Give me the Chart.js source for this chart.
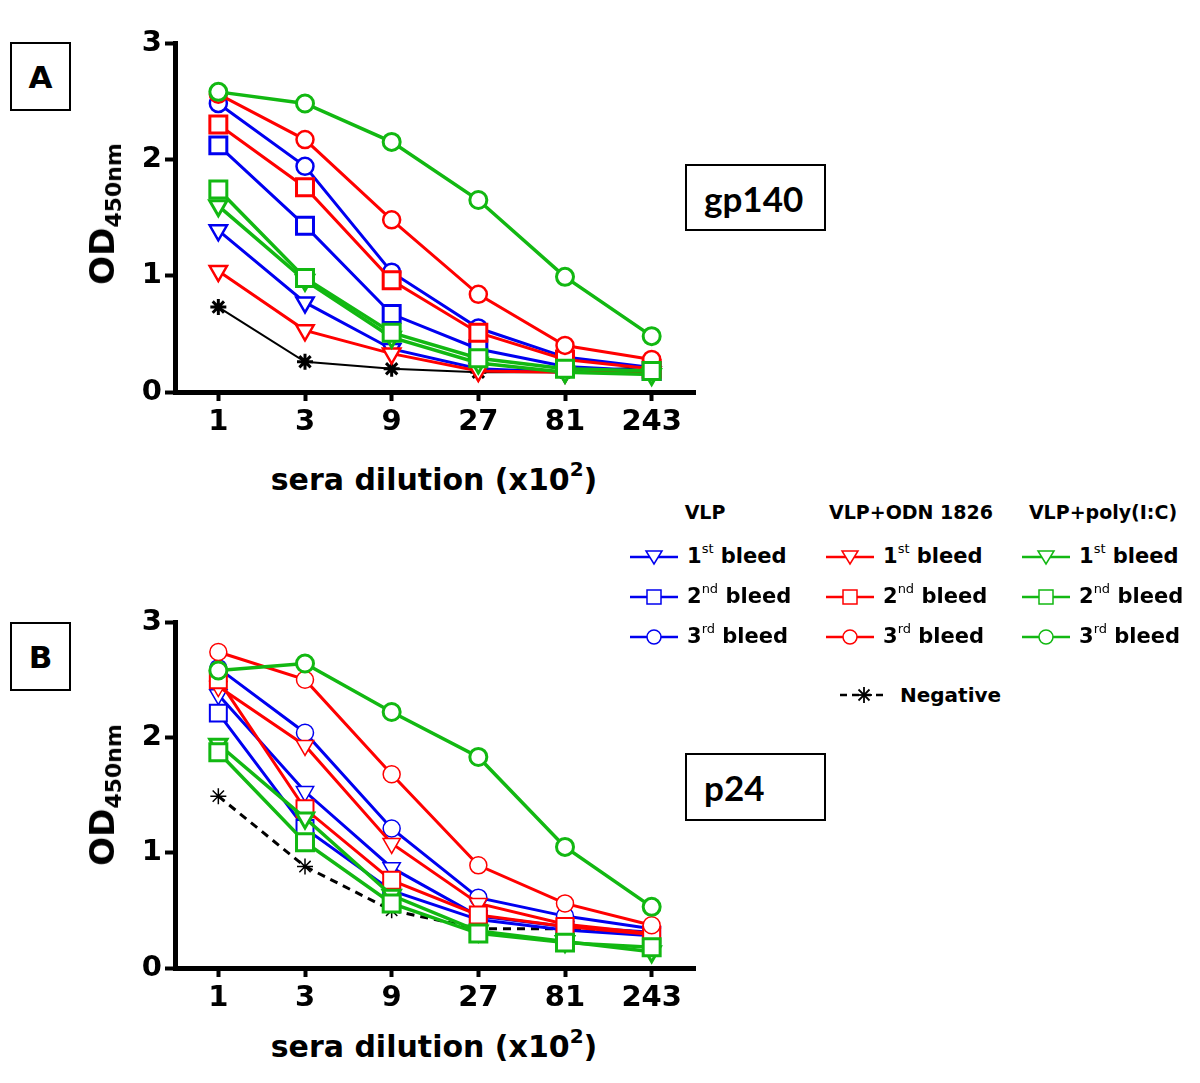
<!DOCTYPE html>
<html>
<head>
<meta charset="utf-8">
<script src="https://cdn.jsdelivr.net/npm/chart.js@4.4.1/dist/chart.umd.min.js"></script>
<style>
html, body { margin: 0; padding: 0; background: #fff; }
#page { position: relative; width: 1200px; height: 1083px; overflow: hidden; font-family: 'DejaVu Sans', sans-serif; font-weight: bold; color: #000; }
canvas.plot { position: absolute; left: 0; }
.box { position: absolute; border: 2px solid #000; box-sizing: border-box; background: #fff; }
.letter { font: bold 31px 'DejaVu Sans', sans-serif; display: flex; align-items: center; justify-content: center; }
.antigen { font: bold 35px Lato, 'Open Sans', sans-serif; display: flex; align-items: center; padding-left: 17px; }
.ytitle { position: absolute; transform: translate(-50%, -50%) rotate(-90deg); font-size: 34px; line-height: 1; white-space: nowrap; }
.ytitle sub { font-size: 22px; line-height: 0; vertical-align: -0.3em; }
.xtitle { position: absolute; transform: translate(-50%, -50%); font-size: 30px; line-height: 1; white-space: nowrap; }
.xtitle sup { font-size: 20px; line-height: 0; vertical-align: 0.7em; }
.lg { position: absolute; white-space: nowrap; line-height: 1; }
.lg sup { font-size: 13px; line-height: 0; vertical-align: 0.75em; font-weight: normal; }
.lghead { position: absolute; transform: translate(-50%, -50%); font-size: 19px; white-space: nowrap; line-height: 1; }
</style>
</head>
<body>
<div id="page">
  <canvas id="chartA" class="plot" width="720" height="440" style="top:0px"></canvas>
  <canvas id="chartB" class="plot" width="720" height="440" style="top:579px"></canvas>

  <div class="box letter" style="left:10px;top:42px;width:61px;height:69px">A</div>
  <div class="box letter" style="left:10px;top:622px;width:61px;height:69px">B</div>
  <div class="box antigen" style="left:685px;top:164px;width:141px;height:67px">gp140</div>
  <div class="box antigen" style="left:685px;top:753px;width:141px;height:68px">p24</div>

  <div class="ytitle" style="left:102px;top:214px">OD<sub>450nm</sub></div>
  <div class="ytitle" style="left:102px;top:795px">OD<sub>450nm</sub></div>
  <div class="xtitle" style="left:434px;top:480px">sera dilution (x10<sup>2</sup>)</div>
  <div class="xtitle" style="left:434px;top:1047px">sera dilution (x10<sup>2</sup>)</div>

  <div id="legend"></div>
</div>

<script>
// x categories (sera dilution x10^2)
const dilutions = ['1', '3', '9', '27', '81', '243'];
const yTicks = [0, 1, 2, 3];

// A: gp140
const vlp1A  = [1.39, 0.77, 0.37, 0.20, 0.17, 0.17];
const vlp2A  = [2.12, 1.43, 0.67, 0.37, 0.22, 0.18];
const vlp3A  = [2.48, 1.94, 1.03, 0.55, 0.30, 0.21];
const odn1A  = [1.04, 0.53, 0.33, 0.18, 0.17, 0.17];
const odn2A  = [2.30, 1.76, 0.96, 0.51, 0.28, 0.20];
const odn3A  = [2.56, 2.17, 1.48, 0.84, 0.40, 0.28];
const poly1A = [1.60, 0.96, 0.47, 0.25, 0.17, 0.15];
const poly2A = [1.74, 0.98, 0.51, 0.29, 0.20, 0.18];
const poly3A = [2.58, 2.48, 2.15, 1.65, 0.99, 0.48];
const negA   = [0.73, 0.26, 0.20, 0.17, 0.17, 0.22];

// B: p24
const vlp1B  = [2.37, 1.53, 0.87, 0.45, 0.36, 0.31];
const vlp2B  = [2.21, 1.21, 0.67, 0.42, 0.33, 0.28];
const vlp3B  = [2.60, 2.04, 1.21, 0.61, 0.45, 0.34];
const odn1B  = [2.44, 1.93, 1.08, 0.56, 0.38, 0.30];
const odn2B  = [2.50, 1.38, 0.76, 0.46, 0.36, 0.29];
const odn3B  = [2.74, 2.50, 1.68, 0.89, 0.56, 0.37];
const poly1B = [1.94, 1.30, 0.63, 0.32, 0.23, 0.14];
const poly2B = [1.87, 1.09, 0.56, 0.30, 0.22, 0.18];
const poly3B = [2.58, 2.64, 2.22, 1.83, 1.05, 0.53];
const negB   = [1.49, 0.88, 0.50, 0.34, 0.34, 0.31];

const BLUE = '#0000f0';
const RED = '#ff0000';
const GREEN = '#12b812';

const groupNames = ['VLP', 'VLP+ODN 1826', 'VLP+poly(I:C)'];
const bleedNums = ['1', '2', '3'];
const bleedSups = ['st', 'nd', 'rd'];

// point radius per marker shape
const RADIUS = { triangle: 10, rect: 12, circle: 8.5, star: 8 };

function series(label, data, color, style, lineW, markW) {
    return {
        label: label,
        data: data,
        borderColor: color,
        backgroundColor: '#fff',
        borderWidth: lineW,
        pointStyle: style,
        pointRotation: style === 'triangle' ? 180 : 0,
        pointRadius: RADIUS[style],
        pointHoverRadius: RADIUS[style],
        pointBorderWidth: markW,
        pointBackgroundColor: '#fff',
        pointBorderColor: color,
        tension: 0,
        fill: false
    };
}

const tickFont = { family: 'DejaVu Sans', weight: 'bold', size: 29 };

function makeChart(id, sets, xHeight) {
    new Chart(document.getElementById(id), {
        type: 'line',
        data: { labels: dilutions, datasets: sets },
        options: {
            responsive: false,
            animation: false,
            layout: { padding: { top: 43, right: 25, left: 0, bottom: 0 } },
            plugins: { legend: { display: false }, tooltip: { enabled: false } },
            scales: {
                x: {
                    type: 'category',
                    offset: true,
                    ticks: { color: '#000', font: tickFont, padding: 4, maxRotation: 0 },
                    grid: { display: true, drawOnChartArea: false, drawTicks: true, tickLength: 9, tickWidth: 4, tickColor: '#000' },
                    border: { display: true, width: 5, color: '#000' },
                    afterFit: function (s) { s.height = xHeight; }
                },
                y: {
                    min: yTicks[0],
                    max: yTicks[yTicks.length - 1],
                    afterBuildTicks: function (s) { s.ticks = yTicks.map(v => ({ value: v })); },
                    ticks: { color: '#000', font: tickFont, padding: 3 },
                    grid: { display: true, drawOnChartArea: false, drawTicks: true, tickLength: 10, tickWidth: 4, tickColor: '#000' },
                    border: { display: true, width: 5, color: '#000' },
                    afterFit: function (s) { s.width = 175; }
                }
            }
        }
    });
}

// first dataset is drawn on top
makeChart('chartA', [
    series('VLP+poly(I:C) 3rd', poly3A, GREEN, 'circle', 3.5, 3),
    series('VLP+poly(I:C) 2nd', poly2A, GREEN, 'rect', 3.5, 3),
    series('VLP+poly(I:C) 1st', poly1A, GREEN, 'triangle', 3.5, 3),
    series('VLP+ODN 1826 3rd', odn3A, RED, 'circle', 3, 2.5),
    series('VLP+ODN 1826 2nd', odn2A, RED, 'rect', 3, 3),
    series('VLP+ODN 1826 1st', odn1A, RED, 'triangle', 3, 2.5),
    series('VLP 3rd', vlp3A, BLUE, 'circle', 3, 2.5),
    series('VLP 2nd', vlp2A, BLUE, 'rect', 3, 3),
    series('VLP 1st', vlp1A, BLUE, 'triangle', 3, 2.5),
    series('Negative', negA, '#000', 'star', 2, 3)
], 48);

const negSetB = series('Negative', negB, '#000', 'star', 3, 1.5);
negSetB.borderDash = [8, 6];

makeChart('chartB', [
    series('VLP+poly(I:C) 3rd', poly3B, GREEN, 'circle', 3.5, 3),
    series('VLP+poly(I:C) 2nd', poly2B, GREEN, 'rect', 3.5, 3),
    series('VLP+poly(I:C) 1st', poly1B, GREEN, 'triangle', 3.5, 3),
    series('VLP+ODN 1826 3rd', odn3B, RED, 'circle', 3, 1.5),
    series('VLP+ODN 1826 2nd', odn2B, RED, 'rect', 3, 2),
    series('VLP+ODN 1826 1st', odn1B, RED, 'triangle', 3, 1.5),
    series('VLP 3rd', vlp3B, BLUE, 'circle', 3, 1.5),
    series('VLP 2nd', vlp2B, BLUE, 'rect', 3, 2),
    series('VLP 1st', vlp1B, BLUE, 'triangle', 3, 1.5),
    negSetB
], 51);

// legend (html, shared by both panels)
function icon(shape, color, width) {
    let mark = '';
    if (shape === 'triangle') mark = '<polygon points="16,6 32,6 24,19" fill="#fff" stroke="' + color + '" stroke-width="1.5"/>';
    if (shape === 'rect') mark = '<rect x="17" y="5" width="14" height="14" fill="#fff" stroke="' + color + '" stroke-width="1.5"/>';
    if (shape === 'circle') mark = '<circle cx="24" cy="12" r="7" fill="#fff" stroke="' + color + '" stroke-width="1.5"/>';
    if (shape === 'star') mark = '<g stroke="' + color + '" stroke-width="1.8">' +
        '<line x1="24" y1="4" x2="24" y2="20"/><line x1="16" y1="12" x2="32" y2="12"/>' +
        '<line x1="18.5" y1="6.5" x2="29.5" y2="17.5"/><line x1="18.5" y1="17.5" x2="29.5" y2="6.5"/></g>';
    return '<svg width="48" height="24" style="position:absolute;left:0;top:0">' +
        '<line x1="0" y1="12" x2="48" y2="12" stroke="' + color + '" stroke-width="' + width + '"' +
        (shape === 'star' ? ' stroke-dasharray="7,5"' : '') + '/>' + mark + '</svg>';
}

const legend = document.getElementById('legend');
const groupColors = [BLUE, RED, GREEN];
const groupIconX = [630, 826, 1022];
const groupHeadX = [705, 911, 1103];
const rowY = [557, 597, 637];
const shapes = ['triangle', 'rect', 'circle'];
let html = '';
for (let g = 0; g < 3; g++) {
    html += '<div class="lghead" style="left:' + groupHeadX[g] + 'px;top:512px">' + groupNames[g] + '</div>';
    for (let r = 0; r < 3; r++) {
        html += '<div class="lg" style="left:' + groupIconX[g] + 'px;top:' + (rowY[r] - 12) + 'px;width:200px;height:24px">' +
            icon(shapes[r], groupColors[g], 2.5) +
            '<span style="position:absolute;left:57px;top:1px;font-size:21px">' + bleedNums[r] + '<sup>' + bleedSups[r] + '</sup> bleed</span></div>';
    }
}
html += '<div class="lg" style="left:840px;top:683px;width:200px;height:24px">' + icon('star', '#000', 2.5) +
    '<span style="position:absolute;left:60px;top:2px;font-size:20px">Negative</span></div>';
legend.innerHTML = html;
</script>
</body>
</html>
